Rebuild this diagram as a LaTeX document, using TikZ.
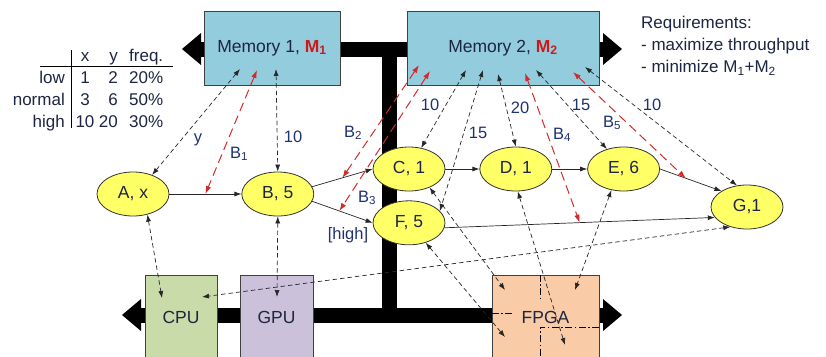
\documentclass[tikz,border=0pt]{standalone}
\usepackage{fontspec}
\setmainfont{Liberation Sans}
\usepackage{tikz}
\usetikzlibrary{arrows.meta,positioning,shapes.geometric,calc}
\definecolor{ink}{HTML}{1C2541}
\definecolor{lblc}{HTML}{1F3270}
\definecolor{memc}{HTML}{93CDDD}
\definecolor{cpuc}{HTML}{C9DBA8}
\definecolor{gpuc}{HTML}{CCC1DA}
\definecolor{fpgac}{HTML}{F9CBA7}
\definecolor{taskc}{HTML}{FFFF66}
\definecolor{bwred}{HTML}{D42A2A}
\definecolor{mred}{HTML}{D01818}
\tikzset{
  txt/.style={font=\fontsize{17.5}{22}\selectfont,text=ink},
  cell/.style={txt,font=\fontsize{17}{22}\selectfont,inner sep=0pt},
  task/.style={ellipse,draw=black!80,fill=taskc,line width=0.8pt,minimum width=72pt,
    minimum height=44pt,inner sep=0pt,txt},
  membox/.style={draw=black!75,fill=memc,line width=0.8pt,minimum height=74pt,txt},
  hwbox/.style={draw=black!75,line width=0.8pt,minimum height=84pt,txt},
  bus/.style={line width=15pt,
    {Triangle[length=19pt,width=32pt,line width=0pt]}-{Triangle[length=19pt,width=32pt,line width=0pt]}},
  trunk/.style={line width=15pt},
  flowe/.style={-{Latex[length=7pt,width=5pt]},line width=0.7pt,color=black!85},
  mapln/.style={{Latex[length=7pt,width=5pt]}-{Latex[length=7pt,width=5pt]},line width=0.7pt,
    dash pattern=on 4.5pt off 3pt,color=black!85},
  bwln/.style={{Latex[length=8pt,width=5.5pt]}-{Latex[length=8pt,width=5.5pt]},line width=1pt,
    dash pattern=on 9pt off 5pt,color=bwred},
  lbl/.style={font=\fontsize{16.5}{20}\selectfont,text=lblc,inner sep=0pt},
  ddot/.style={line width=0.8pt,dash pattern=on 7pt off 2.5pt on 1.5pt off 2.5pt}
}

\begin{document}
\begin{tikzpicture}[x=1pt,y=-1pt]
  \path[use as bounding box,clip] (0,0) rectangle (826,356);
  % memory and processor buses
  \coordinate (mbw) at (182,49); \coordinate (mbe) at (622,49);
  \coordinate (pbw) at (122,315); \coordinate (pbe) at (622,315);
  \coordinate (vt) at (389.5,49); \coordinate (vb) at (389.5,315);
  \draw[bus] (mbw) -- (mbe);
  \draw[bus] (pbw) -- (pbe);
  \draw[trunk] (vt) -- (vb);
  % resources
  \node[membox,minimum width=136pt] (mem1) at (272,48)
    {Memory 1, \textcolor{mred}{\textbf{M\textsubscript{1}}}};
  \node[membox,minimum width=192pt] (mem2) at (503,48)
    {Memory 2, \textcolor{mred}{\textbf{M\textsubscript{2}}}};
  \node[hwbox,fill=cpuc,minimum width=72pt] (cpu) at (181,317) {CPU};
  \node[hwbox,fill=gpuc,minimum width=73pt] (gpu) at (276.5,317) {GPU};
  \node[hwbox,fill=fpgac,minimum width=107pt] (fpga) at (545.5,317) {FPGA};
  \draw[ddot] ([xshift=-5.5pt]fpga.north) -- ++(0,25);
  \draw[ddot] ([yshift=4pt]fpga.west) -- ++(21,0);
  \draw[ddot] ([yshift=-10pt]fpga.east) -| ([xshift=-5.5pt]fpga.south);
  % frequency table
  \node[cell,anchor=base] (hx) at (85,61) {x};
  \node[cell,anchor=base east] (hy) at (118,61) {y};
  \node[cell,anchor=base west] (hf) at (129,61) {freq.};
  \foreach \r/\xv/\yv/\fv [count=\i] in {low/1/2/20,normal/3/6/50,high/10/20/30}{
    \node[cell,anchor=base east] (rl\i) at (65,61+22*\i) {\r};
    \node[cell,anchor=base] (rx\i) at (85,61+22*\i) {\xv};
    \node[cell,anchor=base east] (ry\i) at (118,61+22*\i) {\yv};
    \node[cell,anchor=base west] (rf\i) at (129,61+22*\i) {\fv\%};
  }
  \draw[line width=0.8pt] (40,66) -- (173,66);
  \draw[line width=0.8pt] (71,50) -- (71,128);
  \node[cell,anchor=north west,align=left] (req) at (641,16)
    {Requirements:\\- maximize throughput\\- minimize M\textsubscript{1}+M\textsubscript{2}};
  % tasks
  \node[task] (A) at (133,194) {A, x};
  \node[task,right=72pt of A] (B) {B, 5};
  \node[task] (C) at (409,169) {C, 1};
  \node[task,right=34pt of C] (D) {D, 1};
  \node[task,right=35pt of D] (E) {E, 6};
  \node[task,below=9pt of C] (F) {F, 5};
  \node[task] (G) at (747,207) {G,1};
  \draw[flowe] (A) -- coordinate[pos=.5] (b1) (B);
  \draw[flowe] (B.12) -- coordinate[pos=.5] (b2) (C.west);
  \draw[flowe] (B.-12) -- coordinate[pos=.45] (b3) (F.west);
  \draw[flowe] (C) -- (D);
  \draw[flowe] (D) -- (E);
  \draw[flowe] (E.east) -- coordinate[pos=.42] (b5) (G.148);
  \draw[flowe] (F.-8) -- coordinate[pos=.5] (b4) (G.198);
  % mapping ends inside the resources
  \coordinate (m1y) at (240,69); \coordinate (m1b) at (257,70); \coordinate (m1t) at (276,69);
  \coordinate (m2b2) at (419,65); \coordinate (m2b3) at (430,71); \coordinate (m2c) at (466,70);
  \coordinate (m2f) at (483,70); \coordinate (m2d) at (498,74); \coordinate (m2b4) at (525,73);
  \coordinate (m2e) at (536,70); \coordinate (m2b5) at (573,72); \coordinate (m2g) at (585,67);
  \coordinate (cpua) at (162,298); \coordinate (cpug) at (202,297); \coordinate (gpub) at (277,297);
  \coordinate (fpc) at (505,290); \coordinate (fpf) at (505,337);
  \coordinate (fpd) at (565,345); \coordinate (fpe) at (575,290);
  \foreach \a/\b in {m1y/A.45,m1t/B.north,m2c/C.60,m2f/F.21,m2d/D.north,m2e/E.130,m2g/G.115,
      A.-55/cpua,B.south/gpub,G.-130/cpug,C.-42/fpc,F.-50/fpf,D.-85/fpd,E.-120/fpe}
    \draw[mapln] (\a) -- (\b);
  % bandwidth B1-B5
  \foreach \a/\b in {m1b/b1,m2b2/b2,m2b3/b3,m2b4/b4,m2b5/b5}
    \draw[bwln] (\a) -- (\b);
  % labels
  \foreach \n/\px/\py/\t in {ly/198/140/y,lb1/239/154/B\textsubscript{1},l10a/293/137/10,
      lb2/353/133/B\textsubscript{2},l10b/430/105/10,l15a/478/133/15,l20/520/108/20,
      lb4/562/135/B\textsubscript{4},l15b/581/105/15,lb5/612/123/B\textsubscript{5},
      l10c/652/105/10,lb3/367/198/B\textsubscript{3},lhi/348/235/{[high]}}
    \node[lbl] (\n) at (\px,\py) {\t};
\end{tikzpicture}
\end{document}
